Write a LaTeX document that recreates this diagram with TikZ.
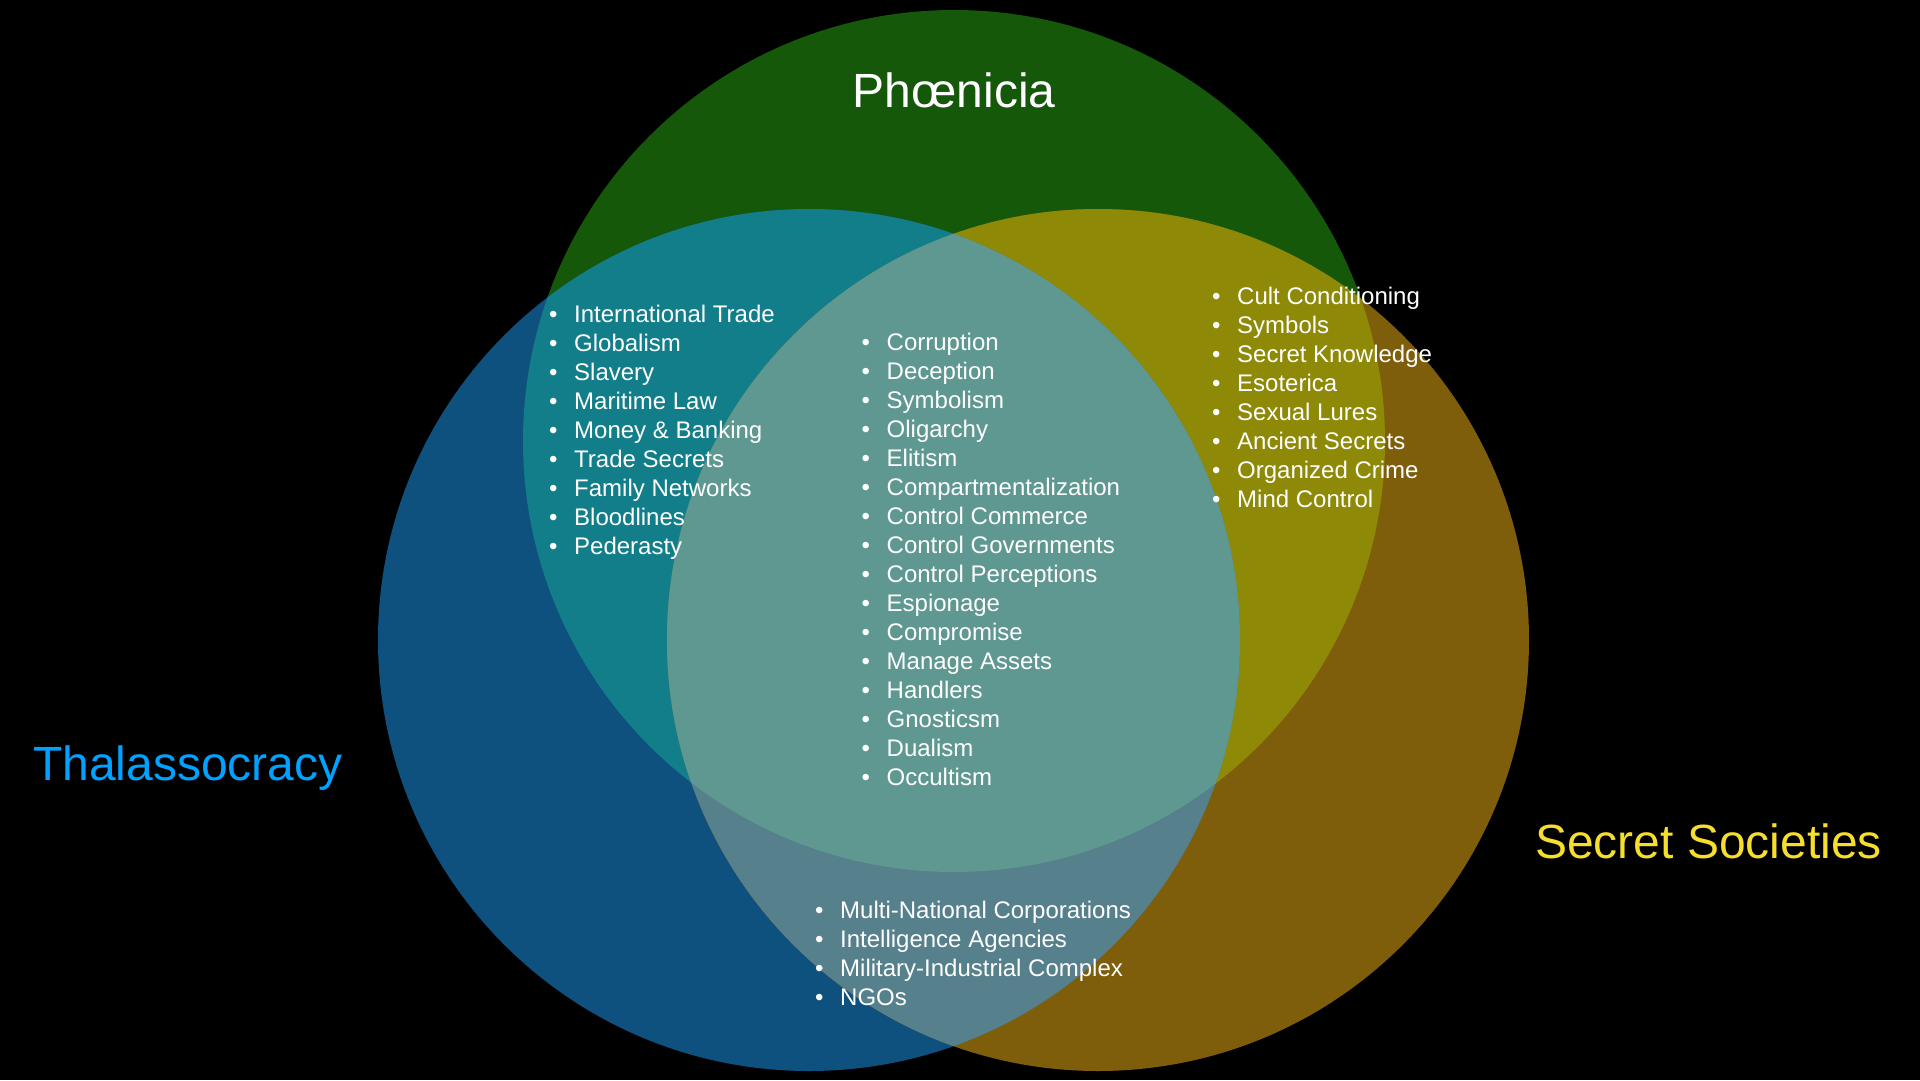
\documentclass[tikz,border=0pt]{standalone}
\usepackage{fontspec}
\setmainfont{Liberation Sans}
\definecolor{gonly}{RGB}{21,88,10}
\definecolor{bonly}{RGB}{14,80,126}
\definecolor{yonly}{RGB}{126,93,11}
\definecolor{gb}{RGB}{18,126,138}
\definecolor{gy}{RGB}{142,137,7}
\definecolor{by}{RGB}{85,128,140}
\definecolor{gby}{RGB}{95,151,145}
\definecolor{thal}{RGB}{0,162,255}
\definecolor{secr}{RGB}{247,222,44}
\begin{document}
\begin{tikzpicture}[x=1pt,y=-1pt,
  item/.style={anchor=base west,inner sep=0pt,text=white,font=\fontsize{24}{29}\selectfont},
  title/.style={inner sep=0pt,font=\fontsize{48}{56}\selectfont}]
\fill[black] (0,0) rectangle (1920,1080);
\useasboundingbox (0,0) rectangle (1920,1080);
\coordinate (G) at (954,441);
\coordinate (B) at (809,640);
\coordinate (Y) at (1098,640);
\def\R{431pt}
\fill[gonly] (G) circle (\R);
\fill[bonly] (B) circle (\R);
\fill[yonly] (Y) circle (\R);
\begin{scope}\clip (G) circle (\R); \fill[gb] (B) circle (\R);\end{scope}
\begin{scope}\clip (G) circle (\R); \fill[gy] (Y) circle (\R);\end{scope}
\begin{scope}\clip (B) circle (\R); \fill[by] (Y) circle (\R);\end{scope}
\begin{scope}\clip (G) circle (\R); \clip (B) circle (\R); \fill[gby] (Y) circle (\R);\end{scope}
% titles
\node[title,anchor=base,text=white] (tPh) at (954,107) {Phœnicia};
\node[title,anchor=base west,text=thal] (tTh) at (33,780) {Thalassocracy};
\node[title,anchor=base west,text=secr] (tSS) at (1535,858) {Secret Societies};
% lists
\foreach \t [count=\i from 0] in {International Trade,Globalism,Slavery,Maritime Law,Money \& Banking,Trade Secrets,Family Networks,Bloodlines,Pederasty}
  \node[item] (L\i) at (549,322+29*\i) {\makebox[25pt][l]{•}\t};
\foreach \t [count=\i from 0] in {Corruption,Deception,Symbolism,Oligarchy,Elitism,Compartmentalization,Control Commerce,Control Governments,Control Perceptions,Espionage,Compromise,Manage Assets,Handlers,Gnosticsm,Dualism,Occultism}
  \node[item] (M\i) at (861.5,350.5+29*\i) {\makebox[25pt][l]{•}\t};
\foreach \t [count=\i from 0] in {Cult Conditioning,Symbols,Secret Knowledge,Esoterica,Sexual Lures,Ancient Secrets,Organized Crime,Mind Control}
  \node[item] (R\i) at (1212,304+29*\i) {\makebox[25pt][l]{•}\t};
\foreach \t [count=\i from 0] in {Multi-National Corporations,Intelligence Agencies,Military-Industrial Complex,NGOs}
  \node[item] (D\i) at (815,918+29*\i) {\makebox[25pt][l]{•}\t};
\end{tikzpicture}
\end{document}
